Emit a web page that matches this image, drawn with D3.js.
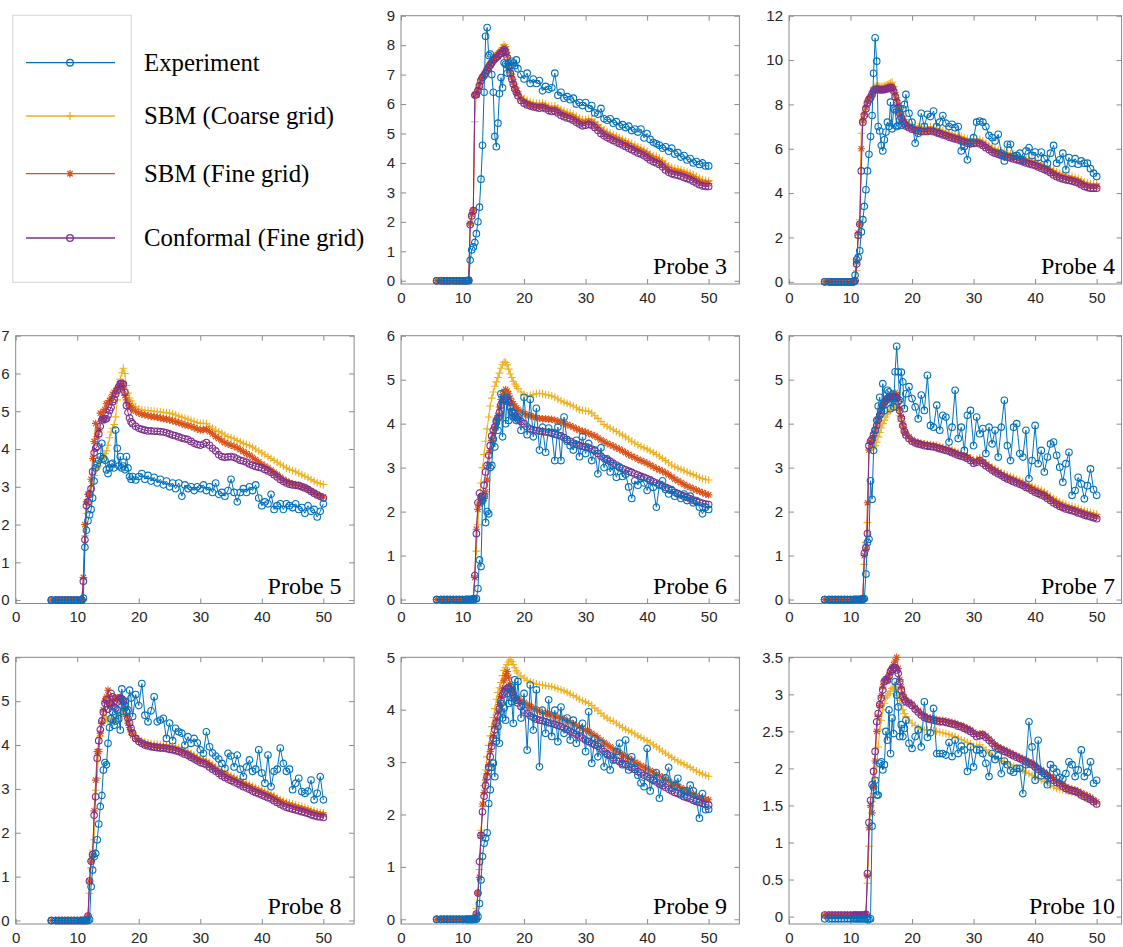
<!DOCTYPE html>
<html><head><meta charset="utf-8">
<script src="https://cdn.jsdelivr.net/npm/d3@7"></script>
<style>
html,body{margin:0;padding:0;background:#fff;}
svg{display:block;}
</style></head>
<body><svg id="chart" width="1123" height="947"></svg>
<script>
// ---------- shared sampling times ----------
const time = [5.8,6.5,7,7.5,8,8.5,9,9.5,10,10.5,
 10.75,11,11.25,11.5,11.75,12,12.25,12.5,12.75,13,
 13.25,13.5,13.75,14,14.25,14.5,14.75,15,15.25,15.5,
 15.75,16,16.25,16.5,16.75,17,17.25,17.5,17.75,18,
 18.25,18.5,18.75,19,
 19.5,20,20.5,21,21.5,22,22.5,23,23.5,24,
 24.5,25,25.5,26,26.5,27,27.5,28,28.5,29,
 29.5,30,30.5,31,31.5,32,32.5,33,33.5,34,
 34.5,35,35.5,36,36.5,37,37.5,38,38.5,39,
 39.5,40,40.5,41,41.5,42,42.5,43,43.5,44,
 44.5,45,45.5,46,46.5,47,47.5,48,48.5,49,
 49.5,50];

const seriesNames = ["Experiment","SBM (Coarse grid)","SBM (Fine grid)","Conformal (Fine grid)"];
const probeLabels = ["Probe 3","Probe 4","Probe 5","Probe 6","Probe 7","Probe 8","Probe 9","Probe 10"];
const xTicks = [0,10,20,30,40,50];
const yTickSets = [
 [0,1,2,3,4,5,6,7,8,9],
 [0,2,4,6,8,10,12],
 [0,1,2,3,4,5,6,7],
 [0,1,2,3,4,5,6],
 [0,1,2,3,4,5,6],
 [0,1,2,3,4,5,6],
 [0,1,2,3,4,5],
 [0,0.5,1,1.5,2,2.5,3,3.5]];
const yMaxes = [9,12,7,6,6,6,5,3.5];
const yMins = [-0.11,-0.1,-0.09,-0.09,-0.09,-0.08,-0.09,-0.1];

// ---------- Probe 3 ----------
const exp3 = [0,0,0,0,0,0,0,0,0,0,
 0,0,0.7,1.05,1.15,1.3,1.6,2.0,2.5,3.45,
 4.6,6.4,8.3,8.6,7.65,7.7,7.0,6.4,4.9,4.55,
 5.35,6.35,6.9,6.55,7.4,7.35,7.05,7.4,7.3,7.45,
 7.4,7.3,7.5,7.2,
 7.0,6.85,7.05,6.7,6.85,6.7,6.8,6.45,6.6,6.5,
 6.55,7.05,6.3,6.4,6.2,6.25,6.15,6.2,6.0,6.05,
 5.95,6.05,5.85,5.95,5.7,5.65,5.85,5.5,5.45,5.5,
 5.35,5.4,5.25,5.3,5.2,5.25,5.1,5.15,5.05,5.15,
 4.85,5.0,4.8,4.7,4.65,4.6,4.5,4.55,4.4,4.5,
 4.3,4.35,4.2,4.25,4.1,4.15,4.0,4.05,3.95,4.0,
 3.9,3.9];
const coarse3 = [0,0,0,0,0,0,0,0,0,0,
 0,0.02,1.9,2.2,2.4,5.4,6.38,6.5,6.68,6.85,
 6.95,7.03,7.12,7.22,7.32,7.4,7.48,7.56,7.62,7.68,
 7.74,7.8,7.86,7.92,8.02,7.95,7.75,7.48,7.22,7.02,
 6.84,6.68,6.55,6.43,
 6.27,6.18,6.12,6.08,6.05,6.03,6.02,6.04,6.0,5.95,
 5.93,5.94,5.88,5.82,5.77,5.73,5.7,5.65,5.58,5.52,
 5.47,5.48,5.51,5.48,5.4,5.3,5.2,5.12,5.06,5.01,
 4.96,4.91,4.86,4.81,4.76,4.71,4.66,4.61,4.55,4.51,
 4.45,4.39,4.32,4.26,4.22,4.17,4.08,3.98,3.9,3.85,
 3.82,3.8,3.77,3.73,3.69,3.65,3.6,3.54,3.48,3.44,
 3.41,3.4];
const fine3 = [0,0,0,0,0,0,0,0,0,0,
 0,0.02,1.95,2.25,2.4,6.32,6.35,6.48,6.65,6.82,
 6.92,7.0,7.08,7.18,7.28,7.36,7.44,7.52,7.57,7.63,
 7.68,7.74,7.78,7.84,7.92,7.86,7.65,7.38,7.12,6.92,
 6.74,6.58,6.45,6.33,
 6.17,6.08,6.02,5.98,5.95,5.93,5.92,5.94,5.9,5.84,
 5.82,5.83,5.77,5.7,5.65,5.61,5.58,5.53,5.46,5.4,
 5.35,5.37,5.4,5.37,5.29,5.19,5.09,5.01,4.95,4.9,
 4.85,4.8,4.75,4.7,4.65,4.6,4.55,4.5,4.44,4.4,
 4.34,4.28,4.2,4.14,4.1,4.05,3.96,3.86,3.78,3.73,
 3.7,3.68,3.65,3.61,3.57,3.53,3.48,3.42,3.36,3.32,
 3.3,3.3];
const conf3 = [0,0,0,0,0,0,0,0,0,0,
 0,0.02,1.9,2.2,2.38,6.3,6.32,6.45,6.62,6.8,
 6.9,6.97,7.05,7.15,7.25,7.32,7.4,7.48,7.52,7.58,
 7.62,7.68,7.72,7.78,7.84,7.78,7.58,7.3,7.05,6.85,
 6.68,6.52,6.4,6.28,
 6.12,6.03,5.97,5.93,5.9,5.88,5.86,5.88,5.84,5.78,
 5.75,5.76,5.7,5.62,5.57,5.53,5.5,5.45,5.38,5.32,
 5.26,5.28,5.31,5.28,5.2,5.1,5.0,4.92,4.86,4.81,
 4.76,4.71,4.66,4.61,4.56,4.5,4.45,4.4,4.34,4.3,
 4.24,4.18,4.1,4.04,4.0,3.95,3.86,3.76,3.68,3.63,
 3.6,3.58,3.55,3.51,3.47,3.43,3.38,3.32,3.26,3.22,
 3.2,3.2];

// ---------- Probe 4 ----------
const exp4 = [0,0,0,0,0,0,0,0,0,0,
 0.3,1.0,1.1,1.4,2.25,2.8,3.4,4.15,5.0,5.75,
 6.55,7.5,9.4,11.0,9.95,7.0,6.8,6.15,5.9,6.4,
 6.75,7.2,7.0,8.1,6.9,7.8,7.75,7.0,7.05,7.3,
 7.05,7.8,8.0,8.45,
 7.6,7.2,6.25,6.7,7.6,7.0,7.55,7.45,7.7,7.0,
 7.2,7.5,7.15,7.0,7.1,6.95,7.0,5.9,6.1,5.5,
 6.3,6.5,7.2,7.25,7.2,7.0,6.6,6.5,6.35,6.65,
 5.8,5.45,6.2,6.2,5.65,5.7,5.8,5.5,5.9,6.05,
 5.7,5.85,5.6,5.85,5.55,5.35,5.8,6.15,5.35,5.5,
 5.8,5.05,5.6,5.35,5.55,5.3,5.45,5.35,5.35,5.1,
 4.9,4.75];
const coarse4 = [0,0,0,0,0,0,0,0,0,0,
 0.05,0.5,2.0,2.8,6.7,7.3,7.6,7.9,8.15,8.3,
 8.42,8.58,8.75,8.8,8.82,8.82,8.8,8.8,8.8,8.82,
 8.85,8.88,8.92,8.96,9.0,8.8,8.55,8.3,8.05,7.8,
 7.6,7.45,7.32,7.22,
 7.15,7.08,7.03,7.0,6.98,6.98,6.98,7.0,6.97,6.92,
 6.88,6.82,6.78,6.72,6.68,6.64,6.6,6.55,6.5,6.45,
 6.42,6.44,6.46,6.42,6.35,6.25,6.15,6.06,6.0,5.95,
 5.9,5.86,5.82,5.78,5.74,5.7,5.66,5.61,5.56,5.52,
 5.48,5.44,5.38,5.32,5.26,5.2,5.12,5.03,4.95,4.89,
 4.85,4.81,4.78,4.75,4.71,4.66,4.59,4.51,4.46,4.43,
 4.42,4.42];
const fine4 = [0,0,0,0,0,0,0,0,0,0,
 0.05,0.9,2.2,2.6,6.0,7.25,7.55,7.85,8.1,8.25,
 8.35,8.5,8.65,8.7,8.72,8.72,8.7,8.7,8.7,8.72,
 8.74,8.76,8.78,8.82,8.8,8.65,8.42,8.18,7.92,7.66,
 7.46,7.3,7.17,7.07,
 7.0,6.93,6.88,6.85,6.83,6.83,6.83,6.85,6.82,6.78,
 6.74,6.68,6.64,6.58,6.54,6.5,6.46,6.41,6.36,6.31,
 6.28,6.3,6.32,6.28,6.21,6.11,6.02,5.92,5.87,5.82,
 5.77,5.73,5.69,5.65,5.61,5.57,5.53,5.48,5.43,5.39,
 5.35,5.31,5.25,5.19,5.13,5.07,4.99,4.9,4.82,4.76,
 4.72,4.68,4.65,4.62,4.58,4.53,4.46,4.38,4.33,4.3,
 4.3,4.3];
const conf4 = [0,0,0,0,0,0,0,0,0,0,
 0.05,0.8,2.1,2.6,5.0,7.2,7.5,7.8,8.05,8.2,
 8.3,8.45,8.6,8.65,8.68,8.68,8.65,8.65,8.65,8.66,
 8.68,8.7,8.72,8.75,8.75,8.6,8.35,8.1,7.85,7.6,
 7.4,7.25,7.12,7.02,
 6.95,6.88,6.83,6.8,6.78,6.78,6.78,6.8,6.77,6.72,
 6.68,6.62,6.58,6.52,6.48,6.44,6.4,6.35,6.3,6.25,
 6.22,6.24,6.26,6.22,6.15,6.05,5.95,5.85,5.8,5.75,
 5.7,5.66,5.62,5.58,5.54,5.5,5.46,5.41,5.36,5.32,
 5.28,5.24,5.18,5.12,5.06,5.0,4.92,4.82,4.74,4.68,
 4.64,4.6,4.57,4.54,4.5,4.45,4.38,4.3,4.25,4.22,
 4.22,4.22];

// ---------- Probe 5 ----------
const exp5 = [0,0,0,0,0,0,0,0,0,0,
 0,0.05,1.4,1.85,2.1,2.26,2.4,2.7,3.15,3.5,
 3.6,3.7,3.8,4.15,3.75,3.7,3.45,3.35,3.5,3.6,
 3.62,3.5,4.5,4.02,3.55,3.8,3.5,3.55,3.45,3.8,
 3.5,3.27,3.2,3.27,
 3.18,3.27,3.35,3.2,3.3,3.15,3.25,3.1,3.2,3.05,
 3.15,3.0,3.1,2.95,3.1,2.75,3.05,2.95,3.0,2.9,
 3.0,2.95,3.05,2.9,3.0,2.85,3.1,2.8,2.85,2.75,
 2.9,3.2,2.85,2.6,2.85,2.95,2.85,3.0,2.9,3.05,
 2.7,2.5,2.6,2.55,2.8,2.4,2.5,2.55,2.4,2.55,
 2.5,2.45,2.55,2.4,2.45,2.3,2.5,2.35,2.4,2.2,
 2.35,2.55];
const coarse5 = [0,0,0,0,0,0,0,0,0,0,
 0,0.6,1.7,2.3,2.6,2.75,3.0,3.1,3.3,3.45,
 3.5,3.55,3.65,3.75,3.8,3.88,3.95,4.1,4.3,4.45,
 4.55,4.65,4.85,5.3,5.6,5.85,6.02,6.14,6.0,5.68,
 5.48,5.35,5.27,5.2,
 5.12,5.06,5.04,5.02,5.02,5.01,5.0,4.99,4.98,4.97,
 4.96,4.95,4.93,4.9,4.87,4.84,4.82,4.79,4.76,4.73,
 4.7,4.68,4.68,4.67,4.6,4.55,4.5,4.46,4.42,4.37,
 4.33,4.3,4.27,4.23,4.19,4.15,4.12,4.09,4.05,4.0,
 3.95,3.9,3.85,3.8,3.75,3.7,3.65,3.6,3.55,3.5,
 3.46,3.43,3.4,3.36,3.32,3.28,3.24,3.19,3.15,3.11,
 3.08,3.06];
const fine5 = [0,0,0,0,0,0,0,0,0,0,
 0,0.6,2.0,2.6,2.8,2.83,3.2,3.75,4.2,4.68,
 4.33,4.5,4.95,4.8,5.0,5.05,5.2,5.22,5.28,5.35,
 5.45,5.5,5.55,5.58,5.65,5.7,5.72,5.58,5.42,5.3,
 5.2,5.15,5.1,5.06,
 5.0,4.95,4.92,4.9,4.88,4.86,4.85,4.84,4.82,4.8,
 4.79,4.77,4.75,4.72,4.7,4.67,4.64,4.62,4.6,4.56,
 4.53,4.5,4.51,4.52,4.46,4.4,4.33,4.28,4.22,4.17,
 4.13,4.1,4.07,4.03,3.98,3.93,3.88,3.84,3.78,3.72,
 3.66,3.6,3.55,3.5,3.44,3.38,3.32,3.26,3.2,3.15,
 3.11,3.08,3.06,3.04,3.01,2.98,2.94,2.89,2.84,2.8,
 2.76,2.73];
const conf5 = [0,0,0,0,0,0,0,0,0,0,
 0,0.5,1.6,2.5,2.6,2.8,2.95,3.4,3.9,4.02,
 4.07,4.4,4.6,4.77,4.8,4.78,4.8,4.9,5.02,5.1,
 5.25,5.32,5.45,5.55,5.65,5.73,5.74,5.72,5.5,5.15,
 4.97,4.82,4.72,4.67,
 4.6,4.55,4.52,4.5,4.48,4.48,4.47,4.47,4.46,4.45,
 4.43,4.4,4.37,4.35,4.32,4.29,4.27,4.25,4.2,4.15,
 4.12,4.1,4.13,4.17,4.1,4.02,3.95,3.85,3.8,3.78,
 3.79,3.8,3.78,3.74,3.7,3.68,3.65,3.6,3.57,3.54,
 3.52,3.5,3.46,3.42,3.38,3.32,3.26,3.19,3.14,3.1,
 3.07,3.05,3.04,3.03,3.0,2.97,2.93,2.88,2.83,2.78,
 2.74,2.7];

// ---------- Probe 6 ----------
const exp6 = [0,0,0,0,0,0,0,0,0,0,
 0,0,0,0,0,0,0.02,0.25,0.9,0.75,
 2.25,2.35,1.75,2.0,1.95,3.0,3.05,3.65,3.47,4.07,
 3.85,4.15,4.68,3.7,4.53,4.0,4.6,4.07,4.38,4.27,
 4.15,4.23,4.07,4.15,
 3.85,4.6,3.75,4.55,3.7,4.35,3.4,3.92,3.35,3.9,
 3.8,3.16,3.92,3.16,4.15,3.6,3.5,3.4,3.62,3.25,
 3.7,3.32,3.55,3.16,3.4,2.86,3.45,3.0,3.2,2.9,
 3.05,2.78,3.0,2.8,2.85,2.56,2.3,2.7,2.6,2.75,
 2.65,2.48,2.7,2.55,2.1,2.6,2.7,2.5,2.4,2.5,
 2.35,2.4,2.3,2.4,2.25,2.35,2.2,2.25,2.1,1.95,
 2.1,2.05];
const coarse6 = [0,0,0,0,0,0,0,0,0,0,
 0,0,0,0,0.02,0.5,1.1,1.7,2.2,2.65,
 3.0,3.3,3.6,3.88,4.15,4.4,4.58,4.72,4.85,4.95,
 5.05,5.15,5.26,5.34,5.4,5.39,5.34,5.24,5.13,5.05,
 4.96,4.9,4.85,4.8,
 4.72,4.66,4.63,4.64,4.66,4.68,4.69,4.68,4.66,4.65,
 4.63,4.6,4.56,4.52,4.49,4.46,4.43,4.4,4.36,4.32,
 4.3,4.29,4.28,4.24,4.18,4.12,4.05,3.98,3.94,3.9,
 3.86,3.82,3.78,3.74,3.7,3.65,3.6,3.56,3.52,3.48,
 3.45,3.42,3.38,3.34,3.3,3.26,3.21,3.16,3.11,3.06,
 3.02,2.99,2.96,2.93,2.9,2.87,2.84,2.81,2.78,2.75,
 2.73,2.72];
const fine6 = [0,0,0,0,0,0,0,0,0,0,
 0,0,0,0,0.02,0.5,1.6,2.05,2.17,2.21,
 2.24,2.3,2.45,2.72,3.05,3.38,3.62,3.77,3.9,4.06,
 4.18,4.38,4.55,4.66,4.73,4.78,4.74,4.68,4.58,4.5,
 4.45,4.4,4.36,4.32,
 4.27,4.23,4.2,4.18,4.16,4.14,4.12,4.11,4.11,4.1,
 4.1,4.08,4.06,4.04,4.01,3.98,3.95,3.92,3.88,3.85,
 3.83,3.81,3.78,3.75,3.72,3.68,3.63,3.59,3.55,3.52,
 3.49,3.45,3.42,3.38,3.34,3.3,3.26,3.23,3.19,3.16,
 3.13,3.1,3.06,3.02,2.98,2.95,2.92,2.88,2.84,2.79,
 2.74,2.7,2.66,2.62,2.58,2.55,2.52,2.49,2.46,2.43,
 2.4,2.38];
const conf6 = [0,0,0,0,0,0,0,0,0,0,
 0,0,0,0,0.02,0.55,1.5,2.2,2.42,2.33,
 2.35,2.6,2.9,3.05,3.28,3.5,3.72,3.85,3.93,4.03,
 4.13,4.25,4.42,4.5,4.54,4.57,4.54,4.48,4.38,4.28,
 4.23,4.18,4.14,4.1,
 4.05,4.0,3.93,3.88,3.86,3.84,3.83,3.82,3.81,3.8,
 3.78,3.76,3.74,3.72,3.68,3.64,3.6,3.56,3.53,3.5,
 3.48,3.47,3.45,3.42,3.38,3.32,3.26,3.21,3.17,3.14,
 3.1,3.06,3.02,2.98,2.95,2.92,2.89,2.86,2.83,2.8,
 2.78,2.75,2.72,2.68,2.65,2.62,2.58,2.55,2.52,2.48,
 2.44,2.41,2.38,2.35,2.32,2.29,2.26,2.23,2.21,2.19,
 2.17,2.16];

// ---------- Probe 7 ----------
const exp7 = [0,0,0,0,0,0,0,0,0,0,
 0,0,0,0,0,0,0.02,0.58,1.3,1.37,
 2.7,2.28,3.39,3.85,4.08,4.4,4.6,4.23,4.91,4.3,
 4.53,4.76,4.72,4.34,4.57,4.38,5.18,5.76,5.18,4.53,
 5.17,4.95,4.34,4.68,
 4.84,4.57,4.38,4.11,4.65,4.3,5.1,3.96,3.92,4.42,
 3.85,4.19,4.15,3.58,3.92,4.76,3.66,3.92,3.39,4.19,
 4.3,3.5,4.15,3.77,3.89,3.32,3.92,3.54,3.85,3.24,
 3.92,4.53,3.5,3.16,3.92,4.0,3.32,3.24,3.85,2.75,
 3.16,3.96,3.09,3.39,2.9,3.24,3.54,3.58,3.28,3.01,
 2.67,3.09,3.35,2.37,2.48,2.78,2.63,2.29,2.59,2.97,
 2.5,2.37];
const coarse7 = [0,0,0,0,0,0,0,0,0,0,
 0,0,0,0,0,0.02,0.8,1.3,1.75,3.4,
 3.43,3.45,3.47,3.5,3.58,3.7,3.8,3.9,4.0,4.08,
 4.15,4.22,4.28,4.32,4.36,4.4,4.4,4.38,4.3,4.18,
 4.05,3.92,3.81,3.73,
 3.66,3.61,3.58,3.56,3.55,3.54,3.53,3.52,3.51,3.5,
 3.48,3.46,3.44,3.42,3.4,3.37,3.34,3.32,3.3,3.27,
 3.22,3.17,3.19,3.22,3.17,3.11,3.06,3.01,2.97,2.93,
 2.89,2.86,2.83,2.8,2.77,2.74,2.71,2.68,2.65,2.62,
 2.58,2.55,2.52,2.49,2.45,2.4,2.35,2.3,2.26,2.22,
 2.19,2.16,2.14,2.12,2.1,2.07,2.05,2.02,2.0,1.98,
 1.96,1.94];
const fine7 = [0,0,0,0,0,0,0,0,0,0,
 0,0,0,0,0,0.02,1.0,1.15,2.2,3.4,
 3.55,3.62,3.73,3.85,3.97,4.1,4.22,4.33,4.43,4.5,
 4.55,4.58,4.62,4.64,4.66,4.68,4.7,4.66,4.55,4.35,
 4.16,3.99,3.86,3.78,
 3.7,3.63,3.59,3.57,3.55,3.53,3.52,3.51,3.5,3.48,
 3.46,3.44,3.42,3.4,3.37,3.34,3.31,3.29,3.27,3.24,
 3.19,3.13,3.15,3.19,3.13,3.07,3.02,2.97,2.93,2.89,
 2.85,2.81,2.78,2.75,2.72,2.69,2.66,2.63,2.59,2.56,
 2.52,2.48,2.45,2.42,2.39,2.34,2.29,2.24,2.2,2.16,
 2.13,2.1,2.08,2.06,2.04,2.01,1.99,1.96,1.94,1.92,
 1.9,1.88];
const conf7 = [0,0,0,0,0,0,0,0,0,0,
 0,0,0,0,0,0.02,1.05,1.18,1.5,3.5,
 3.6,3.65,3.75,3.85,3.96,4.08,4.19,4.3,4.4,4.48,
 4.53,4.57,4.6,4.61,4.61,4.61,4.61,4.58,4.5,4.3,
 4.12,3.95,3.82,3.74,
 3.66,3.6,3.56,3.54,3.52,3.5,3.49,3.48,3.47,3.45,
 3.43,3.41,3.39,3.37,3.34,3.31,3.28,3.26,3.24,3.21,
 3.16,3.1,3.12,3.16,3.1,3.04,2.99,2.94,2.9,2.86,
 2.82,2.78,2.74,2.71,2.68,2.65,2.62,2.59,2.55,2.52,
 2.48,2.44,2.41,2.38,2.35,2.3,2.25,2.2,2.16,2.12,
 2.09,2.06,2.04,2.02,2.0,1.97,1.95,1.92,1.9,1.88,
 1.86,1.84];

// ---------- Probe 8 ----------
const exp8 = [0,0,0,0,0,0,0,0,0,0,
 0,0,0,0,0,0.02,0.77,1.15,1.45,1.53,
 1.84,2.2,2.6,2.85,3.43,3.6,3.55,4.04,4.4,4.6,
 4.76,4.45,4.55,4.8,4.6,4.34,5.28,4.76,5.0,4.76,
 4.8,5.25,5.07,4.65,
 5.15,4.9,5.4,4.68,4.53,4.78,5.1,4.53,4.57,4.61,
 4.15,4.5,4.1,4.38,4.3,4.27,4.0,4.19,4.04,4.15,
 4.05,3.89,3.81,4.3,3.96,3.82,3.75,3.68,3.58,3.47,
 3.81,3.75,3.5,3.77,3.45,3.28,3.5,3.66,3.4,3.45,
 3.89,3.36,3.13,3.77,3.05,3.4,3.45,3.93,3.58,3.4,
 3.45,2.98,3.13,3.24,2.94,2.9,2.95,3.2,2.75,2.9,
 3.28,2.75];
const coarse8 = [0,0,0,0,0,0,0,0,0,0,
 0,0,0,0,0.1,0.62,1.2,1.6,1.84,2.97,
 3.24,3.9,4.2,4.5,4.62,4.65,4.6,4.57,4.55,4.53,
 4.55,4.57,4.6,4.62,4.68,4.72,4.8,4.78,4.72,4.65,
 4.55,4.45,4.35,4.28,
 4.2,4.14,4.1,4.07,4.05,4.03,4.02,4.02,4.01,4.01,
 4.0,3.99,3.98,3.96,3.94,3.91,3.88,3.85,3.81,3.77,
 3.73,3.7,3.68,3.65,3.6,3.55,3.5,3.45,3.41,3.37,
 3.33,3.3,3.27,3.23,3.2,3.16,3.13,3.1,3.06,3.03,
 3.0,2.97,2.94,2.91,2.88,2.84,2.8,2.76,2.73,2.7,
 2.68,2.66,2.64,2.62,2.6,2.58,2.55,2.52,2.5,2.48,
 2.46,2.45];
const fine8 = [0,0,0,0,0,0,0,0,0,0,
 0,0,0,0,0.1,0.9,1.35,1.5,2.5,3.2,
 3.85,3.85,4.27,4.5,4.8,5.0,5.1,5.25,4.87,4.95,
 5.0,5.07,5.07,5.07,5.08,5.1,5.05,4.99,4.85,4.65,
 4.5,4.4,4.3,4.22,
 4.15,4.1,4.06,4.03,4.01,3.99,3.98,3.97,3.96,3.96,
 3.95,3.94,3.93,3.91,3.89,3.86,3.83,3.8,3.76,3.72,
 3.68,3.65,3.63,3.6,3.55,3.5,3.45,3.4,3.36,3.32,
 3.28,3.25,3.22,3.18,3.15,3.11,3.08,3.05,3.01,2.98,
 2.95,2.92,2.89,2.86,2.83,2.79,2.75,2.71,2.68,2.65,
 2.63,2.6,2.58,2.56,2.54,2.52,2.5,2.47,2.45,2.43,
 2.42,2.41];
const conf8 = [0,0,0,0,0,0,0,0,0,0,
 0,0,0,0,0.1,0.9,1.35,1.5,2.4,2.82,
 3.7,4.1,4.35,4.55,4.75,4.95,5.03,4.82,4.95,5.18,
 5.1,4.87,4.84,4.98,5.03,5.07,5.05,5.0,4.9,4.76,
 4.61,4.5,4.38,4.27,
 4.15,4.08,4.04,4.0,3.98,3.96,3.95,3.94,3.93,3.93,
 3.92,3.9,3.89,3.87,3.85,3.82,3.79,3.76,3.72,3.68,
 3.64,3.6,3.58,3.55,3.5,3.45,3.4,3.35,3.3,3.26,
 3.22,3.19,3.16,3.12,3.09,3.05,3.02,2.99,2.95,2.92,
 2.89,2.86,2.83,2.8,2.77,2.73,2.69,2.65,2.61,2.58,
 2.56,2.54,2.52,2.5,2.48,2.46,2.44,2.41,2.39,2.37,
 2.36,2.35];

// ---------- Probe 9 ----------
const exp9 = [0,0,0,0,0,0,0,0,0,0,
 0,0,0,0,0,0,0,0.05,0.3,0.75,
 1.2,1.45,1.55,1.65,2.21,2.47,2.9,2.98,2.72,3.4,
 3.68,3.36,4.12,3.84,4.03,3.8,4.31,4.12,4.44,4.15,
 3.74,4.57,4.19,4.54,
 3.84,4.31,3.23,4.47,3.61,4.38,2.91,3.99,3.55,4.19,
 3.49,3.99,3.39,4.05,3.55,3.84,3.42,3.8,3.36,3.6,
 3.74,3.2,3.96,2.98,3.45,3.1,3.36,2.91,3.14,2.85,
 3.04,3.2,3.36,2.95,3.42,2.85,3.1,2.9,2.75,2.6,
 2.53,3.26,2.45,2.66,2.8,2.31,2.6,2.7,2.9,2.5,
 2.55,2.69,2.4,2.45,2.35,2.56,2.45,2.28,1.93,2.4,
 2.09,2.1];
const coarse9 = [0,0,0,0,0,0,0,0,0,0,
 0,0,0,0,0,0.02,0.2,0.5,0.95,1.7,
 2.15,2.55,2.85,3.1,3.32,3.5,3.68,3.85,4.02,4.2,
 4.33,4.42,4.52,4.65,4.75,4.8,4.86,4.91,4.95,4.92,
 4.86,4.8,4.74,4.7,
 4.64,4.6,4.56,4.53,4.51,4.49,4.48,4.47,4.46,4.45,
 4.44,4.42,4.4,4.38,4.36,4.33,4.3,4.27,4.24,4.2,
 4.17,4.15,4.12,4.08,4.03,3.98,3.93,3.88,3.84,3.8,
 3.78,3.74,3.7,3.66,3.63,3.6,3.57,3.54,3.5,3.47,
 3.44,3.41,3.37,3.33,3.29,3.25,3.21,3.17,3.13,3.09,
 3.05,3.02,2.99,2.96,2.93,2.9,2.86,2.83,2.8,2.77,
 2.75,2.73];
const fine9 = [0,0,0,0,0,0,0,0,0,0,
 0,0,0,0,0,0.02,0.1,0.5,0.8,1.6,
 2.2,2.42,2.66,2.78,2.95,3.2,3.35,3.5,3.68,3.8,
 3.95,4.1,4.25,4.4,4.55,4.65,4.73,4.62,4.48,4.4,
 4.32,4.27,4.24,4.21,
 4.17,4.14,4.1,4.06,4.03,4.0,3.97,3.95,3.93,3.92,
 3.9,3.88,3.86,3.84,3.82,3.79,3.76,3.73,3.7,3.67,
 3.64,3.61,3.58,3.55,3.51,3.47,3.42,3.37,3.33,3.29,
 3.25,3.21,3.18,3.14,3.11,3.07,3.04,3.0,2.97,2.93,
 2.9,2.87,2.84,2.8,2.77,2.74,2.71,2.67,2.64,2.6,
 2.57,2.54,2.51,2.48,2.45,2.42,2.39,2.36,2.33,2.31,
 2.29,2.28];
const conf9 = [0,0,0,0,0,0,0,0,0,0,
 0,0,0,0,0,0.02,0.1,0.5,1.1,1.6,
 2.05,2.35,2.55,2.72,2.9,3.1,3.3,3.45,3.62,3.75,
 3.88,4.02,4.18,4.28,4.34,4.38,4.41,4.41,4.38,4.34,
 4.28,4.22,4.18,4.13,
 4.06,3.99,3.93,3.88,3.85,3.82,3.8,3.79,3.77,3.75,
 3.74,3.72,3.7,3.68,3.65,3.62,3.59,3.56,3.53,3.5,
 3.46,3.42,3.39,3.36,3.33,3.3,3.25,3.2,3.16,3.12,
 3.08,3.04,3.01,2.98,2.95,2.92,2.89,2.86,2.82,2.79,
 2.75,2.72,2.69,2.65,2.62,2.58,2.55,2.52,2.48,2.45,
 2.42,2.4,2.37,2.34,2.32,2.3,2.27,2.25,2.23,2.21,
 2.19,2.18];

// ---------- Probe 10 ----------
const exp10 = [-0.03,-0.03,-0.03,-0.03,-0.03,-0.03,-0.03,-0.03,-0.03,-0.03,
 -0.03,-0.03,-0.03,-0.03,-0.03,-0.03,-0.03,-0.03,-0.04,-0.04,
 -0.03,1.22,1.75,1.84,1.64,1.64,2.07,2.09,1.98,2.05,
 2.5,2.38,2.79,2.2,2.68,2.47,3.17,2.99,2.83,2.43,
 2.59,2.43,2.54,2.65,
 2.34,2.27,2.43,2.52,2.29,2.9,2.42,2.48,2.81,2.2,
 2.2,2.2,2.18,2.35,2.16,2.38,2.2,2.3,2.25,1.96,
 2.29,2.02,2.25,2.25,2.2,2.07,1.89,2.2,2.12,2.17,
 1.93,2.1,2.05,1.97,1.95,2.0,2.0,1.66,2.05,2.63,
 2.29,1.84,2.38,1.9,1.93,1.78,2.05,2.0,1.95,1.88,
 1.86,1.93,2.09,2.05,1.89,1.98,2.25,1.89,1.95,2.09,
 1.8,1.84];
const coarse10 = [0.02,0.02,0.02,0.02,0.02,0.02,0.02,0.02,0.02,0.02,
 0.02,0.02,0.02,0.02,0.02,0.02,0.02,0.03,0.45,0.95,
 1.48,1.55,1.66,1.87,2.02,2.29,2.52,2.65,2.79,2.88,
 2.95,2.98,3.01,3.04,3.08,3.1,3.1,3.06,2.99,2.92,
 2.85,2.79,2.74,2.7,
 2.65,2.61,2.58,2.55,2.53,2.52,2.52,2.51,2.51,2.5,
 2.49,2.48,2.47,2.46,2.44,2.43,2.41,2.39,2.37,2.35,
 2.33,2.3,2.31,2.32,2.28,2.25,2.21,2.18,2.15,2.13,
 2.11,2.09,2.07,2.05,2.03,2.01,1.99,1.97,1.95,1.93,
 1.91,1.89,1.86,1.84,1.82,1.8,1.77,1.75,1.73,1.72,
 1.71,1.7,1.69,1.68,1.67,1.65,1.63,1.61,1.59,1.57,
 1.55,1.53];
const fine10 = [0.02,0.02,0.02,0.02,0.02,0.02,0.02,0.02,0.02,0.02,
 0.02,0.02,0.02,0.02,0.02,0.02,0.02,0.03,0.55,1.2,
 1.5,1.4,1.75,2.1,2.5,2.7,2.85,2.98,3.1,3.18,
 3.2,3.2,3.26,3.3,3.35,3.4,3.45,3.5,3.35,3.2,
 3.1,3.0,2.95,2.92,
 2.9,2.87,2.82,2.78,2.74,2.71,2.69,2.68,2.67,2.66,
 2.65,2.65,2.64,2.63,2.62,2.61,2.59,2.58,2.56,2.54,
 2.52,2.49,2.46,2.47,2.47,2.44,2.4,2.36,2.32,2.29,
 2.27,2.25,2.23,2.21,2.19,2.17,2.15,2.13,2.11,2.09,
 2.07,2.04,2.01,1.98,1.95,1.92,1.89,1.86,1.83,1.81,
 1.78,1.75,1.73,1.72,1.71,1.69,1.67,1.65,1.63,1.61,
 1.58,1.55];
const conf10 = [0.02,0.02,0.02,0.02,0.02,0.02,0.02,0.02,0.02,0.02,
 0.02,0.02,0.02,0.02,0.02,0.02,0.02,0.03,0.58,1.27,
 1.57,1.78,1.96,2.23,2.63,2.74,2.86,2.95,3.06,3.17,
 3.2,3.19,3.24,3.31,3.34,3.36,3.36,3.33,3.28,3.17,
 3.06,2.97,2.93,2.9,
 2.88,2.85,2.8,2.76,2.72,2.69,2.67,2.66,2.65,2.64,
 2.63,2.63,2.62,2.61,2.6,2.59,2.57,2.56,2.54,2.52,
 2.5,2.47,2.43,2.44,2.45,2.42,2.38,2.34,2.3,2.27,
 2.25,2.23,2.21,2.19,2.17,2.15,2.13,2.11,2.09,2.07,
 2.05,2.02,1.99,1.96,1.93,1.9,1.87,1.84,1.81,1.79,
 1.76,1.73,1.71,1.7,1.69,1.67,1.64,1.62,1.6,1.58,
 1.55,1.52];

// ---------- layout & style ----------
const colors = ["#0072BD","#EDB120","#D95319","#7E2F8E"];
const markers = ["o","+","*","o"];
const drawOrder = [1,2,3,0];
const colLeft = [15.7, 401, 789];
const colXMax = [55, 55, 54.05];
const rowBox = [{top:15.7,bottom:284},{top:335.7,bottom:603.5},{top:657.3,bottom:924}];
const pxPerUnit = 6.153;
const panels = [
 {row:0,col:1,series:[exp3,coarse3,fine3,conf3]},
 {row:0,col:2,series:[exp4,coarse4,fine4,conf4]},
 {row:1,col:0,series:[exp5,coarse5,fine5,conf5]},
 {row:1,col:1,series:[exp6,coarse6,fine6,conf6]},
 {row:1,col:2,series:[exp7,coarse7,fine7,conf7]},
 {row:2,col:0,series:[exp8,coarse8,fine8,conf8]},
 {row:2,col:1,series:[exp9,coarse9,fine9,conf9]},
 {row:2,col:2,series:[exp10,coarse10,fine10,conf10]}
];

const svg = d3.select("#chart");
svg.append("rect").attr("width",1123).attr("height",947).attr("fill","#fff");
const axisColor = "#8a8a8a";
const labelFont = "'Liberation Sans', Arial, Helvetica, sans-serif";
const serifFont = "'Liberation Serif', 'Times New Roman', Times, serif";

function markerPath(type, x, y) {
  if (type === "o") { const r = 3.3; return `M${x+r},${y}A${r},${r} 0 1,1 ${x-r},${y}A${r},${r} 0 1,1 ${x+r},${y}`; }
  if (type === "+") { const a = 3.9; return `M${x-a},${y}H${x+a}M${x},${y-a}V${y+a}`; }
  const a = 3.7, b = 2.7;
  return `M${x-a},${y}H${x+a}M${x},${y-a}V${y+a}M${x-b},${y-b}L${x+b},${y+b}M${x-b},${y+b}L${x+b},${y-b}`;
}

function styleAxis(g, showText) {
  g.select(".domain").remove();
  g.selectAll(".tick line").attr("stroke", axisColor).attr("stroke-width", 1);
  g.selectAll(".tick text").attr("fill", "#262626").attr("font-size", 15).attr("font-family", labelFont);
  if (!showText) g.selectAll(".tick text").remove();
}

panels.forEach((p, i) => {
  const left = colLeft[p.col], right = left + colXMax[p.col] * pxPerUnit;
  const top = rowBox[p.row].top, bottom = rowBox[p.row].bottom;
  const x = d3.scaleLinear().domain([0, colXMax[p.col]]).range([left, right]);
  const y = d3.scaleLinear().domain([yMins[i], yMaxes[i]]).range([bottom, top]);
  const g = svg.append("g");

  g.append("g").attr("transform", `translate(0,${bottom})`)
    .call(d3.axisBottom(x).tickValues(xTicks).tickSizeInner(-5).tickSizeOuter(0).tickPadding(8).tickFormat(d => String(d)))
    .call(a => styleAxis(a, true));
  g.append("g").attr("transform", `translate(0,${top})`)
    .call(d3.axisTop(x).tickValues(xTicks).tickSizeInner(-5).tickSizeOuter(0).tickFormat(""))
    .call(a => styleAxis(a, false));
  g.append("g").attr("transform", `translate(${left},0)`)
    .call(d3.axisLeft(y).tickValues(yTickSets[i]).tickSizeInner(-5).tickSizeOuter(0).tickPadding(6).tickFormat(d => String(d)))
    .call(a => styleAxis(a, true));
  g.append("g").attr("transform", `translate(${right},0)`)
    .call(d3.axisRight(y).tickValues(yTickSets[i]).tickSizeInner(-5).tickSizeOuter(0).tickFormat(""))
    .call(a => styleAxis(a, false));
  g.append("rect").attr("x", left).attr("y", top).attr("width", right - left).attr("height", bottom - top)
    .attr("fill", "none").attr("stroke", axisColor).attr("stroke-width", 1);

  drawOrder.forEach(s => {
    const vals = p.series[s];
    const pts = vals.map((v, k) => [x(time[k]), y(v)]).filter(d => isFinite(d[0]) && isFinite(d[1]));
    g.append("path").attr("d", d3.line()(pts)).attr("fill", "none")
      .attr("stroke", colors[s]).attr("stroke-width", 1);
    g.append("path").attr("d", pts.map(d => markerPath(markers[s], d[0], d[1])).join(""))
      .attr("fill", "none").attr("stroke", colors[s]).attr("stroke-width", 1.1);
  });

  const labelX = left + 55 * pxPerUnit - 12.5;
  g.append("text").attr("x", labelX).attr("y", bottom - 10).attr("text-anchor", "end")
    .attr("font-family", serifFont).attr("font-size", 24).attr("fill", "#000").text(probeLabels[i]);
});

// ---------- legend ----------
const lg = svg.append("g");
lg.append("rect").attr("x", 12.7).attr("y", 15.3).attr("width", 118.6).attr("height", 267)
  .attr("fill", "#fff").attr("stroke", "#d6d6d6").attr("stroke-width", 1);
const legendRows = [62.7, 116, 173.7, 238];
seriesNames.forEach((name, s) => {
  const yy = legendRows[s];
  lg.append("line").attr("x1", 26).attr("x2", 115).attr("y1", yy).attr("y2", yy)
    .attr("stroke", colors[s]).attr("stroke-width", 1.3);
  lg.append("path").attr("d", markerPath(markers[s], 70, yy)).attr("fill", "none")
    .attr("stroke", colors[s]).attr("stroke-width", 1.3);
  lg.append("text").attr("x", 144).attr("y", yy + 8).attr("font-family", serifFont)
    .attr("font-size", 24.8).attr("fill", "#000").text(name);
});
</script>
</body></html>
